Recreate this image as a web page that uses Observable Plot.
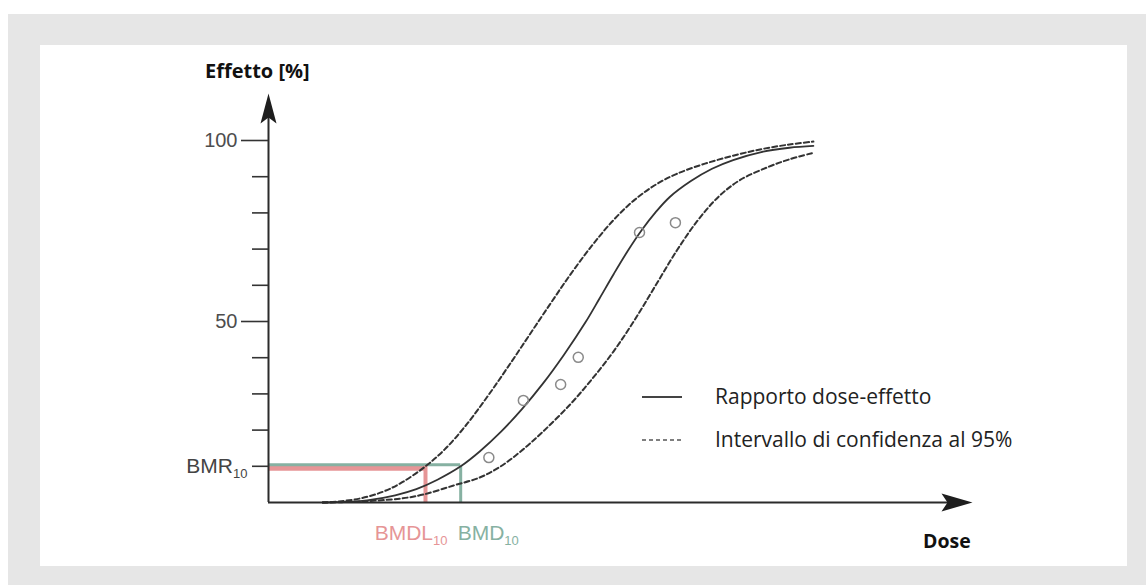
<!DOCTYPE html>
<html><head><meta charset="utf-8">
<script src="https://cdn.jsdelivr.net/npm/d3@7"></script>
<script src="https://cdn.jsdelivr.net/npm/@observablehq/plot@0.6"></script>
<style>
html,body{margin:0;padding:0;background:#fff;}
#wrap{position:relative;width:1146px;height:585px;overflow:hidden;background:#fff;}
#bg{position:absolute;left:8px;top:14px;right:0;bottom:0;background:#e6e6e6;}
#panel{position:absolute;left:40px;top:45px;width:1087px;height:521px;background:#fff;}
#chart{position:absolute;left:0;top:0;}
#over{position:absolute;left:0;top:0;}
</style></head><body>
<div id="wrap">
<div id="bg"></div><div id="panel"></div><div id="chart"></div>
<svg id="over" width="1146" height="585" xmlns="http://www.w3.org/2000/svg">
  <text x="205" y="78" font-family="'Open Sans', sans-serif" font-weight="700" font-size="20" fill="#111">Effetto [%]</text>
  <text x="923" y="548" font-family="'Open Sans', sans-serif" font-weight="700" font-size="19.5" fill="#111">Dose</text>
  <line x1="642" y1="397" x2="682" y2="397" stroke="#444" stroke-width="2"/>
  <line x1="642" y1="440" x2="682" y2="440" stroke="#555" stroke-width="1.6" stroke-dasharray="4,3"/>
  <text x="715" y="404" font-family="'Open Sans', sans-serif" font-size="21" fill="#222">Rapporto dose-effetto</text>
  <text x="715" y="447" font-family="'Open Sans', sans-serif" font-size="21" fill="#222">Intervallo di confidenza al 95%</text>
</svg>
</div>
<script>
// ---- data ----
const fitDose   = [7.7, 10, 14, 18, 21, 24, 27.3, 30, 33, 36, 39, 42, 45, 47, 49, 51, 53, 55, 57, 60, 63, 66, 70, 74, 77.4];
const fitEffect = [0, 0.1, 0.6, 2.0, 3.7, 6.3, 10, 14.1, 19.5, 25.8, 32.9, 40.9, 49.7, 56.3, 63.0, 69.4, 75.2, 80.2, 84.4, 88.8, 92.2, 94.6, 96.8, 98.0, 98.5];

const upperDose   = [7.7, 10, 13, 16.3, 19, 22.3, 25, 28, 31, 34, 37, 40, 43, 46, 49, 52, 55, 58, 62, 66, 70, 74, 77.4];
const upperEffect = [0, 0.3, 1.1, 3.0, 5.6, 10, 14.6, 21.2, 29.0, 37.4, 46.1, 54.8, 63.3, 71.1, 78.0, 83.6, 87.8, 90.8, 93.6, 95.8, 97.6, 98.9, 99.7];

const lowerDose   = [7.7, 12, 18.8, 22, 26.3, 30, 33, 36, 39, 42.9, 46, 49, 52, 55, 58, 61, 64, 67, 71, 74, 77.4];
const lowerEffect = [0, 0.2, 1.1, 2.2, 4.7, 6.9, 10, 14.4, 19.6, 27.2, 34.2, 41.7, 50.4, 60.0, 69.6, 78.0, 84.6, 89.1, 92.7, 94.8, 96.6];

const obsDose   = [31.3, 36.2, 41.5, 44.0, 52.7, 57.8];
const obsEffect = [12.4, 28.2, 32.6, 40.1, 74.6, 77.3];

const bmr = 10, bmdl = 22.3, bmd = 27.3;
const majorTicks = [50, 100];
const minorTicks = [10, 20, 30, 40, 60, 70, 80, 90];
const labels = {bmr: "BMR10", bmdl: "BMDL10", bmd: "BMD10"};
const xMax = 100, yTip = 113;

// ---- build ----
const zip = (xs, ys) => xs.map((x, i) => ({x, y: ys[i]}));
const fit = zip(fitDose, fitEffect), upper = zip(upperDose, upperEffect), lower = zip(lowerDose, lowerEffect), obs = zip(obsDose, obsEffect);
const red = "#e69596", green = "#86b1a2", ink = "#2b2b2b";

const arrowUp = {draw(c){ c.moveTo(0,0); c.lineTo(8,30); c.lineTo(0,24); c.lineTo(-8,30); c.closePath(); }};
const arrowRight = {draw(c){ c.moveTo(0,0); c.lineTo(-31,-9); c.lineTo(-25,0); c.lineTo(-31,9); c.closePath(); }};

const chart = Plot.plot({
  width: 1146, height: 585,
  marginLeft: 268, marginRight: 174, marginTop: 140, marginBottom: 83,
  x: {domain: [0, xMax], axis: null},
  y: {domain: [0, 100]},
  style: {background: "transparent", overflow: "visible", fontFamily: "'Liberation Sans', Arial, sans-serif", fontSize: "20px", color: "#4d4d4d"},
  marks: [
    Plot.ruleY([bmr], {x1: 0, x2: bmdl, stroke: red, strokeWidth: 5, dy: 2}),
    Plot.ruleY([bmr], {x1: 0, x2: bmd, stroke: green, strokeWidth: 3, dy: -1.5}),
    Plot.ruleX([bmdl], {y1: 0, y2: bmr, stroke: red, strokeWidth: 4}),
    Plot.ruleX([bmd], {y1: 0, y2: bmr, stroke: green, strokeWidth: 3}),
    Plot.line(upper, {x: "x", y: "y", curve: "catmull-rom", stroke: "#333", strokeWidth: 2, strokeDasharray: "5,3"}),
    Plot.line(lower, {x: "x", y: "y", curve: "catmull-rom", stroke: "#333", strokeWidth: 2, strokeDasharray: "5,3"}),
    Plot.line(fit, {x: "x", y: "y", curve: "catmull-rom", stroke: "#333", strokeWidth: 1.8}),
    Plot.dot(obs, {x: "x", y: "y", r: 5, stroke: "#8a8a8a", strokeWidth: 1.5, fill: "none"}),
    Plot.ruleX([0], {y1: 0, y2: yTip - 4, stroke: ink, strokeWidth: 2}),
    Plot.ruleY([0], {x1: 0, x2: xMax - 3, stroke: ink, strokeWidth: 2}),
    Plot.dot([{x: 0, y: yTip}], {x: "x", y: "y", symbol: arrowUp, fill: "#1e1e1e", stroke: "none", r: 10}),
    Plot.dot([{x: xMax, y: 0}], {x: "x", y: "y", symbol: arrowRight, fill: "#1e1e1e", stroke: "none", r: 10}),
    Plot.axisY(minorTicks, {tickSize: 16, tickFormat: () => "", stroke: "#333", strokeWidth: 1.6, label: null}),
    Plot.axisY(majorTicks, {tickSize: 27, tickPadding: 4, stroke: "#333", strokeWidth: 1.6, label: null, fontSize: 20}),
    Plot.text([{x: 0, y: bmr, t: labels.bmr}], {x: "x", y: "y", text: "t", textAnchor: "end", dx: -21, fill: "#444", fontSize: 21}),
    Plot.text([{x: bmdl, y: 0, t: labels.bmdl}], {x: "x", y: "y", text: "t", textAnchor: "end", dx: 22, dy: 31, fill: red, fontSize: 21}),
    Plot.text([{x: bmd, y: 0, t: labels.bmd}], {x: "x", y: "y", text: "t", textAnchor: "start", dx: -3, dy: 31, fill: green, fontSize: 21})
  ]
});

// subscripts "10"
chart.querySelectorAll("text").forEach(t => {
  const m = /^(BM[A-Z]+)(10)$/.exec(t.textContent);
  if (!m) return;
  while (t.firstChild) t.removeChild(t.firstChild);
  const ns = "http://www.w3.org/2000/svg";
  const a = document.createElementNS(ns, "tspan"); a.textContent = m[1];
  const b = document.createElementNS(ns, "tspan"); b.textContent = m[2];
  b.setAttribute("font-size", "13"); b.setAttribute("dy", "5");
  t.appendChild(a); t.appendChild(b);
});
document.getElementById("chart").appendChild(chart);
</script>
</body></html>
